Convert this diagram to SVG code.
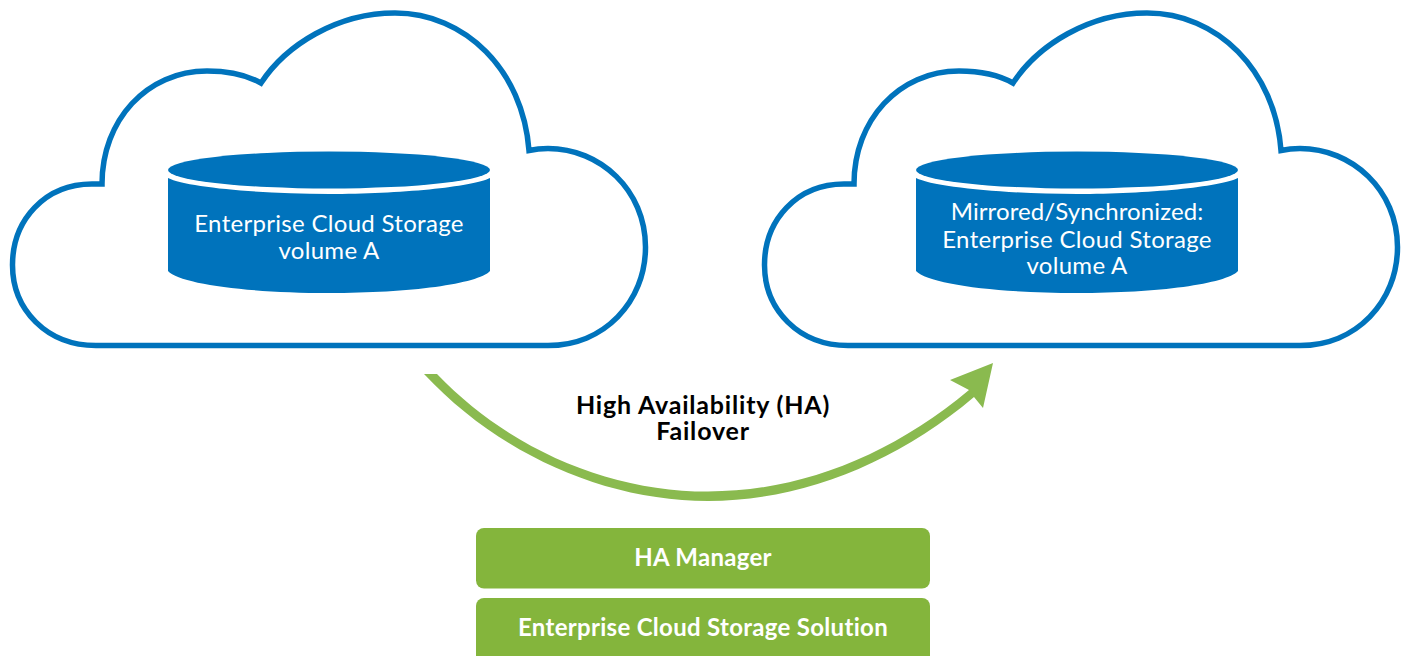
<svg xmlns="http://www.w3.org/2000/svg" width="1408" height="656" viewBox="0 0 1408 656">
<style>
text{font-family:"Lato","Open Sans","Liberation Sans",sans-serif;text-anchor:middle}
.cloud{fill:#fff;stroke:#0073bc;stroke-width:5.500;stroke-linejoin:miter}
.cyl{fill:#0073bc}
.ct{fill:#fff;font-size:24px;letter-spacing:.3px}
.bt{fill:#fff;font-size:24px;font-weight:700;letter-spacing:.3px}
.lb{fill:#000;font-size:25px;font-weight:700;letter-spacing:.8px}
.box{fill:#84b53c}
.arrow{fill:#8aba4f}
</style>
<defs>
<path id="cl" class="cloud" d="M96 345.500H548C604 345.500 645.500 302 645.500 247C645.500 190 600 148.500 548 148.500Q538 148.500 529 150.500C523 70 465 13 395 13C337 13 286 45 261 83C245 74 226 71 207 71C147 71 102 120 102 184Q97 184 92 184C45 184 12.500 220 12.500 265C12.500 310 47 345.500 96 345.500Z"/>
<g id="cy"><path class="cyl" d="M168 178C186 187 258 194 329 194C400 194 472 187 490 178V271C478 284 410 293 329 293C248 293 180 284 168 271Z"/><ellipse class="cyl" cx="329" cy="170" rx="161" ry="18.500"/></g>
</defs>
<g id="cloud-a"><use href="#cl"/><use href="#cy"/>
<text class="ct" x="329" y="232">Enterprise Cloud Storage</text><text class="ct" x="329" y="259">volume A</text></g>
<g id="cloud-b"><use href="#cl" x="752"/><use href="#cy" x="748"/>
<text class="ct" x="1077" y="220" style="letter-spacing:.1px">Mirrored/Synchronized:</text><text class="ct" x="1077" y="248">Enterprise Cloud Storage</text><text class="ct" x="1077" y="274">volume A</text></g>
<g id="connectors"><path class="arrow" d="M424 374H437C510 450 610 491.500 708 491.500C800 491.500 890 456 969 390L950 380L993 363L983 408L974 397C895 464 800 501 708 501C605 501 500 455 424 374Z"/></g>
<g id="label"><text class="lb" x="703" y="414">High Availability (HA)</text><text class="lb" x="703" y="440">Failover</text></g>
<g id="ha-manager"><rect class="box" x="476" y="528" width="454" height="60.500" rx="8"/><text class="bt" x="703" y="566">HA Manager</text></g>
<g id="solution"><rect class="box" x="476" y="598" width="454" height="70" rx="8"/><text class="bt" x="703" y="636">Enterprise Cloud Storage Solution</text></g>
</svg>
